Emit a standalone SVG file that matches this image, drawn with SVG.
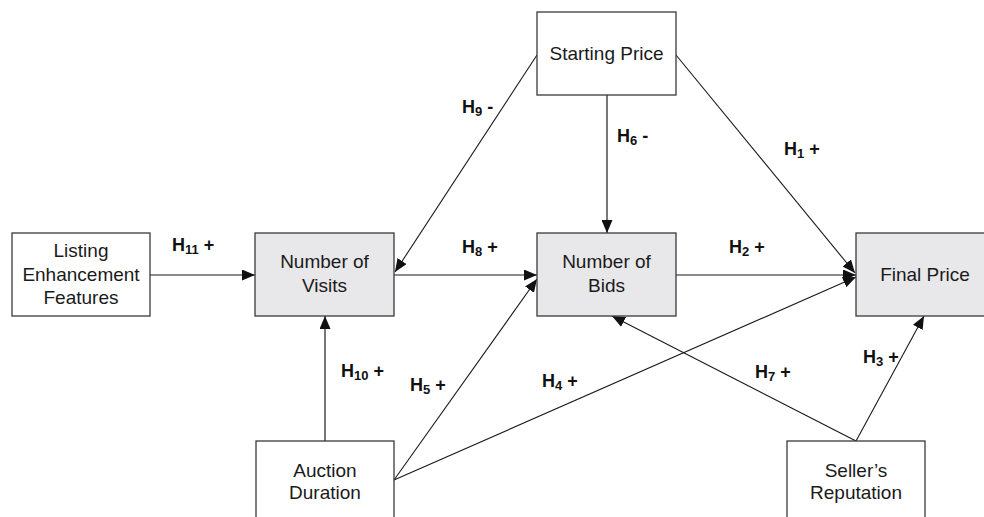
<svg xmlns="http://www.w3.org/2000/svg" width="984" height="517" viewBox="0 0 984 517">
<style>
.box{fill:#ffffff;stroke:#3a3a3a;stroke-width:1.3}
.gbox{fill:#e8e8ea;stroke:#3a3a3a;stroke-width:1.3}
.t{font-family:"Liberation Sans",Arial,sans-serif;font-size:19px;fill:#1a1a1a;text-anchor:middle}
.lbl{font-family:"Liberation Sans",Arial,sans-serif;font-size:18px;font-weight:bold;fill:#111}
.sub{font-size:13px}
.c{stroke:#1a1a1a;stroke-width:1.1;fill:none;marker-end:url(#ah)}
.v{stroke:#555;stroke-width:1.6;fill:none;marker-end:url(#ah)}
</style>
<defs>
<marker id="ah" markerUnits="userSpaceOnUse" markerWidth="13" markerHeight="11" refX="13" refY="5.5" orient="auto">
<path d="M0,0 L13,5.5 L0,11 z" fill="#111"/>
</marker>
</defs>
<rect width="984" height="517" fill="#ffffff"/>
<g id="connectors">
<line class="c" x1="150" y1="275" x2="255" y2="275"/>
<line class="c" x1="394" y1="275" x2="537" y2="275"/>
<line class="c" x1="676" y1="275" x2="856" y2="275"/>
<line class="v" x1="607" y1="95" x2="607" y2="233"/>
<line class="c" x1="537" y1="55" x2="395" y2="272"/>
<line class="c" x1="676" y1="55" x2="855" y2="273"/>
<line class="v" x1="325" y1="441" x2="325" y2="316"/>
<line class="c" x1="394" y1="480" x2="537" y2="279"/>
<line class="c" x1="394" y1="480" x2="856" y2="277"/>
<line class="c" x1="856" y1="441" x2="924" y2="316"/>
<line class="c" x1="856" y1="441" x2="612" y2="316"/>
</g>
<g id="labels">
<text class="lbl" x="172" y="251">H<tspan class="sub" dy="3">11</tspan><tspan dy="-3"> +</tspan></text>
<text class="lbl" x="462" y="253">H<tspan class="sub" dy="3">8</tspan><tspan dy="-3"> +</tspan></text>
<text class="lbl" x="729" y="253">H<tspan class="sub" dy="3">2</tspan><tspan dy="-3"> +</tspan></text>
<text class="lbl" x="617" y="142">H<tspan class="sub" dy="3">6</tspan><tspan dy="-3"> -</tspan></text>
<text class="lbl" x="462" y="113">H<tspan class="sub" dy="3">9</tspan><tspan dy="-3"> -</tspan></text>
<text class="lbl" x="784" y="155">H<tspan class="sub" dy="3">1</tspan><tspan dy="-3"> +</tspan></text>
<text class="lbl" x="341" y="377">H<tspan class="sub" dy="3">10</tspan><tspan dy="-3"> +</tspan></text>
<text class="lbl" x="410" y="391">H<tspan class="sub" dy="3">5</tspan><tspan dy="-3"> +</tspan></text>
<text class="lbl" x="542" y="387">H<tspan class="sub" dy="3">4</tspan><tspan dy="-3"> +</tspan></text>
<text class="lbl" x="863" y="363">H<tspan class="sub" dy="3">3</tspan><tspan dy="-3"> +</tspan></text>
<text class="lbl" x="755" y="378">H<tspan class="sub" dy="3">7</tspan><tspan dy="-3"> +</tspan></text>
</g>
<g id="listing">
<rect class="box" x="12" y="233" width="138" height="83"/>
<text class="t" x="81" y="257">Listing</text>
<text class="t" x="81" y="281">Enhancement</text>
<text class="t" x="81" y="304">Features</text>
</g>
<g id="visits">
<rect class="gbox" x="255" y="233" width="139" height="83"/>
<text class="t" x="324.5" y="268">Number of</text>
<text class="t" x="324.5" y="292">Visits</text>
</g>
<g id="bids">
<rect class="gbox" x="537" y="233" width="139" height="83"/>
<text class="t" x="606.5" y="268">Number of</text>
<text class="t" x="606.5" y="292">Bids</text>
</g>
<g id="final">
<rect class="gbox" x="856" y="233" width="139" height="83"/>
<text class="t" x="925" y="281">Final Price</text>
</g>
<g id="starting">
<rect class="box" x="537" y="12" width="139" height="83"/>
<text class="t" x="606.5" y="60">Starting Price</text>
</g>
<g id="auction">
<rect class="box" x="256" y="441" width="138" height="83"/>
<text class="t" x="325" y="477">Auction</text>
<text class="t" x="325" y="499">Duration</text>
</g>
<g id="seller">
<rect class="box" x="787" y="441" width="138" height="83"/>
<text class="t" x="856" y="477">Seller’s</text>
<text class="t" x="856" y="499">Reputation</text>
</g>
</svg>
